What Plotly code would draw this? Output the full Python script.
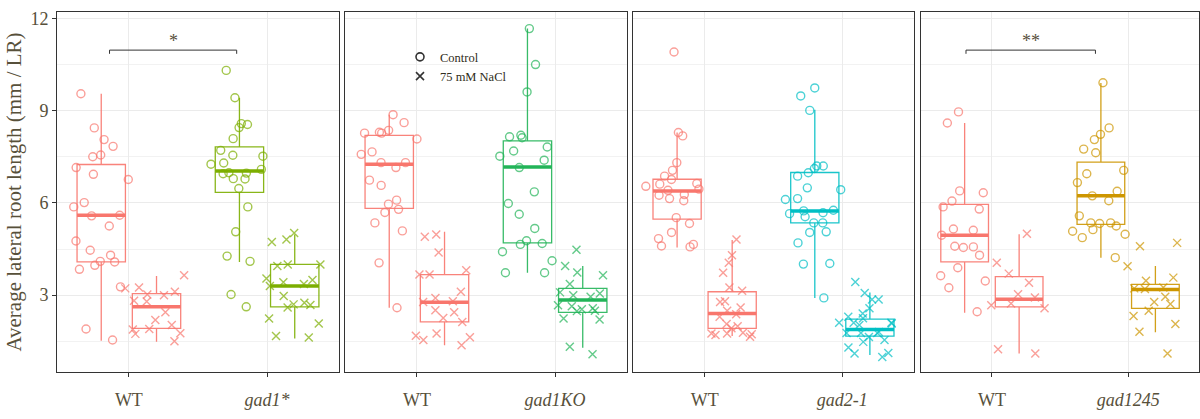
import plotly.graph_objects as go

# ---------------- data ----------------
genotypes = ["gad1*", "gad1KO", "gad2-1", "gad1245"]
treatments = ["Control", "75 mM NaCl"]
wt_color = "#F8766D"
mut_colors = ["#7CAE00", "#22B458", "#00BFC4", "#CD9600"]

# sample values (mm / LR)
p1_wt_control = [9.55, 8.44, 8.06, 7.84, 7.56, 7.5, 7.15, 6.93, 6.76, 6.01, 5.87, 5.6,
                 5.58, 5.25, 4.76, 4.46, 4.3, 4.1, 4.08, 3.97, 3.84, 3.27, 1.9, 1.54]
p1_wt_salt = [3.65, 3.25, 3.22, 3.11, 3.02, 3.0, 2.82, 2.79, 2.44, 2.19, 2.03, 1.9,
              1.88, 1.76, 1.74, 1.5]
p1_mut_control = [10.31, 9.42, 8.58, 8.55, 8.45, 8.09, 7.71, 7.55, 7.52, 7.3, 7.26, 7.09,
                  6.98, 6.97, 6.95, 6.79, 6.78, 6.47, 5.87, 5.06, 4.27, 4.1, 3.02, 2.62]
p1_mut_salt = [5.02, 4.81, 4.73, 4.0, 4.0, 3.95, 3.54, 3.49, 3.42, 3.36, 3.3, 2.97,
               2.75, 2.7, 2.68, 2.6, 2.24, 2.08, 1.67, 1.62]

p2_wt_control = [8.87, 8.61, 8.36, 8.3, 8.27, 8.27, 8.08, 7.66, 7.58, 7.31, 7.31, 7.15,
                 6.74, 6.57, 6.09, 5.96, 5.79, 5.69, 5.35, 5.09, 4.05, 2.59]
p2_wt_salt = [4.97, 4.9, 4.39, 3.81, 3.67, 3.67, 3.11, 2.91, 2.8, 2.78, 2.51, 2.44,
              2.26, 2.13, 1.75, 1.68, 1.63, 1.54, 1.37]
p2_mut_control = [11.67, 10.5, 9.61, 8.2, 8.15, 8.12, 7.82, 7.69, 7.52, 7.39, 7.15, 6.36,
                  5.98, 5.63, 5.17, 4.77, 4.68, 4.65, 4.41, 4.12, 3.73, 3.73]
p2_mut_salt = [4.48, 3.95, 3.74, 3.65, 3.36, 3.09, 3.05, 3.0, 2.95, 2.67, 2.64, 2.57,
               2.54, 2.49, 2.48, 2.24, 2.21, 1.32, 1.08]

p3_wt_control = [10.91, 8.29, 8.18, 7.31, 7.06, 6.87, 6.76, 6.63, 6.61, 6.54, 6.45, 6.41,
                 6.27, 6.25, 6.14, 6.07, 5.52, 5.33, 5.04, 4.84, 4.65, 4.6, 4.57]
p3_wt_salt = [4.81, 4.3, 4.05, 3.73, 3.25, 3.14, 2.8, 2.78, 2.6, 2.49, 2.38, 2.3,
              2.06, 1.99, 1.92, 1.78, 1.75, 1.75, 1.73, 1.7, 1.65]
p3_mut_control = [9.74, 9.48, 9.01, 7.2, 7.2, 7.12, 6.98, 6.87, 6.49, 6.43, 6.14, 6.11,
                  5.76, 5.74, 5.68, 5.65, 5.55, 5.35, 5.35, 5.06, 5.04, 4.7, 4.03, 4.01, 2.91]
p3_mut_salt = [3.43, 3.07, 2.86, 2.86, 2.57, 2.4, 2.3, 2.25, 2.1, 2.1, 2.1, 2.08,
               2.03, 1.8, 1.77, 1.77, 1.77, 1.64, 1.54, 1.48, 1.3, 1.12, 1.1, 0.99]

p4_wt_control = [8.96, 8.6, 6.39, 6.33, 6.06, 5.87, 5.8, 5.15, 5.11, 4.95, 4.59, 4.57,
                 4.55, 4.3, 3.89, 3.63, 3.46, 3.24, 2.46]
p4_wt_salt = [5.0, 4.05, 3.7, 3.4, 3.03, 2.92, 2.73, 2.67, 2.57, 1.24, 1.1]
p4_mut_control = [9.91, 8.44, 8.23, 8.06, 7.75, 7.63, 7.06, 6.95, 6.66, 6.38, 6.23, 6.07,
                  5.58, 5.35, 5.35, 5.33, 5.25, 5.13, 5.08, 4.98, 4.87, 4.22]
p4_mut_salt = [4.7, 4.59, 3.94, 3.57, 3.47, 3.25, 3.22, 3.2, 2.95, 2.78, 2.71, 2.49,
               2.32, 2.06, 1.81, 1.1]

# box statistics
# order per panel: WT Control, WT NaCl, mutant Control, mutant NaCl
box_lower = [1.52, 1.48, 4.08, 1.59,  2.59, 1.37, 3.73, 1.29,  4.55, 1.67, 2.91, 1.05,  2.43, 1.10, 4.22, 1.79]
box_q1 =    [4.08, 1.92, 6.34, 2.62,  5.82, 2.13, 4.70, 2.44,  5.47, 1.92, 5.35, 1.67,  4.08, 2.62, 5.30, 2.57]
box_median = [5.60, 2.62, 7.04, 3.30,  7.26, 2.77, 7.17, 2.84,  6.39, 2.40, 5.74, 1.88,  4.95, 2.87, 6.23, 3.18]
box_q3 =    [7.25, 3.05, 7.82, 4.00,  8.20, 3.67, 8.02, 3.22,  6.77, 3.11, 6.99, 2.22,  5.95, 3.60, 7.33, 3.35]
box_upper = [9.55, 3.62, 9.42, 4.97,  8.87, 5.06, 11.67, 3.95, 8.29, 4.79, 9.03, 3.09,  8.60, 4.98, 9.90, 3.95]

samples = [
    [p1_wt_control, p1_wt_salt, p1_mut_control, p1_mut_salt],
    [p2_wt_control, p2_wt_salt, p2_mut_control, p2_mut_salt],
    [p3_wt_control, p3_wt_salt, p3_mut_control, p3_mut_salt],
    [p4_wt_control, p4_wt_salt, p4_mut_control, p4_mut_salt],
]

y_title = "Average lateral root length (mm / LR)"
sig_labels = ["*", "", "", "**"]

# ---------------- layout constants ----------------
FONT = "Liberation Serif"
TXT = "#57503a"
DOMAINS = [[0.0, 0.2469], [0.2522, 0.4991], [0.5044, 0.7504], [0.7566, 1.0]]
XRANGE = [0.48, 2.52]
YRANGE = [0.5, 12.21]
DODGE = 0.2
BOXW = 0.35
JITTER_W = 0.5


def rgba(hexc, a):
    h = hexc.lstrip("#")
    r, g, b = int(h[0:2], 16), int(h[2:4], 16), int(h[4:6], 16)
    return f"rgba({r},{g},{b},{a})"


fig = go.Figure()

for p in range(4):
    xa = "x" if p == 0 else f"x{p+1}"
    ya = "y" if p == 0 else f"y{p+1}"
    for g in range(4):
        geno_idx = g // 2          # 0 = WT, 1 = mutant
        treat_idx = g % 2          # 0 = Control, 1 = NaCl
        color = wt_color if geno_idx == 0 else mut_colors[p]
        pos = (geno_idx + 1) + (-DODGE if treat_idx == 0 else DODGE)
        k = p * 4 + g
        # box from statistics
        fig.add_trace(go.Box(
            x=[pos], q1=[box_q1[k]], median=[box_median[k]], q3=[box_q3[k]],
            lowerfence=[box_lower[k]], upperfence=[box_upper[k]],
            width=BOXW, whiskerwidth=0, boxpoints=False,
            line=dict(color=rgba(color, 0.9), width=1.3),
            fillcolor="rgba(255,255,255,0)",
            xaxis=xa, yaxis=ya, showlegend=False, hoverinfo="skip",
        ))
        # thick median
        fig.add_trace(go.Scatter(
            x=[pos - BOXW / 2, pos + BOXW / 2], y=[box_median[k], box_median[k]],
            mode="lines", line=dict(color=color, width=3.5),
            xaxis=xa, yaxis=ya, showlegend=False, hoverinfo="skip",
        ))
        # jittered points
        vals = samples[p][g]
        symbol = "circle-open" if treat_idx == 0 else "x-thin-open"
        fig.add_trace(go.Box(
            x=[pos] * len(vals), y=vals, boxpoints="all", jitter=1.0, pointpos=0,
            width=JITTER_W, whiskerwidth=0,
            line=dict(color="rgba(0,0,0,0)", width=0),
            fillcolor="rgba(0,0,0,0)",
            marker=dict(symbol=symbol, size=8,
                        color=rgba(color, 0.7),
                        line=dict(color=rgba(color, 0.7), width=1.4)),
            xaxis=xa, yaxis=ya, showlegend=False, hoverinfo="skip",
        ))

# legend entries
for t, sym in zip(treatments, ["circle-open", "x-thin-open"]):
    fig.add_trace(go.Scatter(
        x=[None], y=[None], mode="markers", name=t,
        marker=dict(symbol=sym, size=8, color="#333333", line=dict(color="#333333", width=1.6)),
        xaxis="x2", yaxis="y2", showlegend=True,
    ))

layout = dict(
    width=1200, height=419,
    margin=dict(l=57, r=1, t=12, b=47, pad=0),
    paper_bgcolor="white", plot_bgcolor="white",
    boxmode="overlay",
    font=dict(family=FONT, color=TXT),
    legend=dict(x=(400 - 57) / 1142, y=0.916, xanchor="left", yanchor="top",
                bgcolor="rgba(0,0,0,0)", font=dict(size=12.5, color="#2f2c20", family=FONT),
                itemwidth=30, tracegroupgap=0),
    showlegend=True,
)

for p in range(4):
    sx = "" if p == 0 else str(p + 1)
    mut = genotypes[p]
    layout[f"xaxis{sx}"] = dict(
        domain=DOMAINS[p], range=XRANGE, anchor=f"y{sx}",
        tickmode="array", tickvals=[1, 2], ticktext=["WT", f"<i>{mut}</i>"],
        showline=True, mirror=True, linecolor="#333333", linewidth=1,
        ticks="outside", ticklen=4, tickcolor="#333333", tickwidth=1,
        showgrid=True, gridcolor="#EBEBEB", gridwidth=1, zeroline=False,
        tickfont=dict(size=18, color=TXT, family=FONT), ticklabelstandoff=7,
    )
    layout[f"yaxis{sx}"] = dict(
        domain=[0, 1], range=YRANGE, anchor=f"x{sx}",
        tickmode="array", tickvals=[3, 6, 9, 12],
        showline=True, mirror=True, linecolor="#333333", linewidth=1,
        showgrid=True, gridcolor="#EBEBEB", gridwidth=1, zeroline=False,
        minor=dict(tickmode="array", tickvals=[1.5, 4.5, 7.5, 10.5], showgrid=True,
                   gridcolor="#F2F2F2", gridwidth=1),
        showticklabels=(p == 0),
        ticks="outside" if p == 0 else "", ticklen=4, tickcolor="#333333",
        tickfont=dict(size=18, color=TXT, family=FONT),
    )
    if p > 0:
        layout[f"yaxis{sx}"]["matches"] = "y"

layout["yaxis"]["title"] = dict(text=y_title, font=dict(size=21, color=TXT, family=FONT), standoff=3)

fig.update_layout(**layout)

# significance brackets
brackets = {0: (0.86, 1.78), 3: (0.81, 1.76)}
for p, (x0, x1) in brackets.items():
    sx = "" if p == 0 else str(p + 1)
    yb, yt = 10.85, 10.97
    for (a, b, c, d) in [(x0, yb, x0, yt), (x0, yt, x1, yt), (x1, yt, x1, yb)]:
        fig.add_shape(type="line", x0=a, y0=b, x1=c, y1=d, xref=f"x{sx}", yref=f"y{sx}",
                      line=dict(color="#333333", width=1))
    fig.add_annotation(x=(x0 + x1) / 2, y=yt, xref=f"x{sx}", yref=f"y{sx}",
                       text=sig_labels[p], showarrow=False, yanchor="bottom",
                       font=dict(size=18, color=TXT, family=FONT), yshift=-3)

fig.write_html("out.html")
